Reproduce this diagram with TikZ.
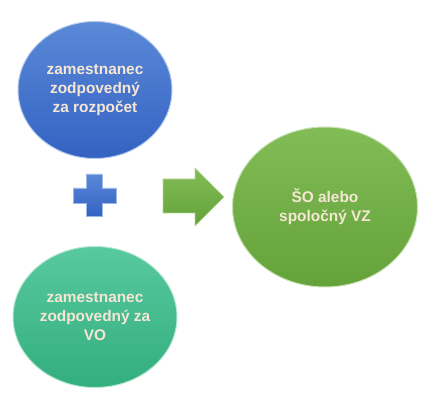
\documentclass[tikz,border=0pt]{standalone}
\usepackage{fontspec}
\setmainfont{Liberation Sans}
\usetikzlibrary{shapes.geometric}
\definecolor{txt}{HTML}{F6E7D5}
\definecolor{blueA}{HTML}{5A89D8}
\definecolor{blueB}{HTML}{3462C2}
\definecolor{tealA}{HTML}{58C9A0}
\definecolor{tealB}{HTML}{33AE7D}
\definecolor{greenA}{HTML}{82BC56}
\definecolor{greenB}{HTML}{64A23A}
\tikzset{
  ball/.style={ellipse, inner sep=0pt, align=center, text=txt,
    font=\fontsize{15.4}{19}\selectfont\bfseries, draw=white!55!#1A, line width=1pt,
    top color=#1A, bottom color=#1B},
  sym/.style={line width=0.6pt}
}
\begin{document}
\begin{tikzpicture}[x=1pt,y=1pt]
\useasboundingbox (0,0) rectangle (427,401);
\node[ball=blue, minimum width=154pt, minimum height=137pt] (b) at (95,311)
  {zamestnanec\\zodpovedný\\za rozpočet};
\node[ball=teal, minimum width=164pt, minimum height=141pt] (t) at (95,84)
  {zamestnanec\\zodpovedný za\\VO};
\node[ball=green, minimum width=185pt, minimum height=160pt] (g) at (325,194)
  {ŠO alebo\\spoločný VZ};
% plus sign
\path[sym, draw=blueA!60!white, top color=blueA, bottom color=blueB] (86,227) -- (102,227) -- (102,213) -- (116,213) -- (116,198) -- (102,198)
  -- (102,185) -- (86,185) -- (86,198) -- (73,198) -- (73,213) -- (86,213) -- cycle;
\coordinate (pc) at (94,206);
% arrow
\path[sym, draw=greenA!60!white, top color=greenA, bottom color=greenB] (163,222) -- (195,222) -- (195,233) -- (224,204) -- (195,175) -- (195,188)
  -- (163,188) -- cycle;
\coordinate (ac) at (193,204);
\end{tikzpicture}
\end{document}
